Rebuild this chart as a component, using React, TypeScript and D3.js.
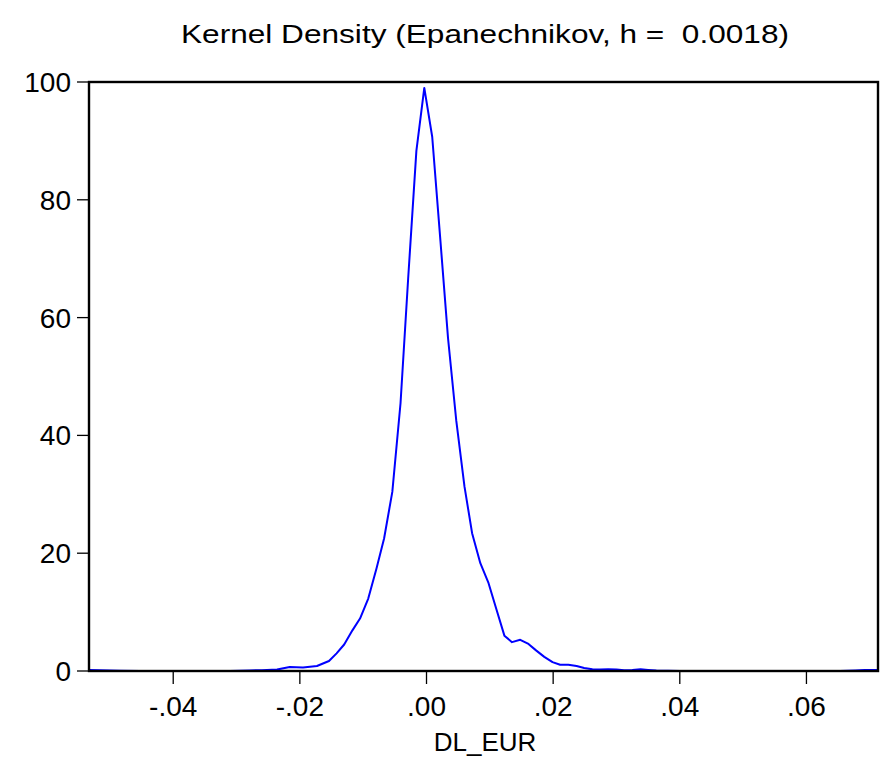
import React from "react";
import * as d3 from "d3";

const xValues = [
  -0.0533, -0.0516, -0.0484, -0.0453, -0.0400, -0.0350, -0.0310, -0.0279, -0.0260, -0.0236,
  -0.0216, -0.0195, -0.0173, -0.0154, -0.0142, -0.0130, -0.0117, -0.0105, -0.0092, -0.0079,
  -0.0067, -0.0054, -0.0041, -0.0029, -0.0016, -0.00035, 0.0009, 0.0022, 0.0034, 0.0047,
  0.0060, 0.0072, 0.0085, 0.0098, 0.0110, 0.0123, 0.0135, 0.0148, 0.0161, 0.0173,
  0.0186, 0.0199, 0.0211, 0.0224, 0.0237, 0.0249, 0.0262, 0.0274, 0.0287, 0.0300,
  0.0312, 0.0325, 0.0338, 0.0350, 0.0363, 0.0400, 0.0500, 0.0600, 0.0653, 0.0677,
  0.0692, 0.0713,
];
const densityValues = [
  0.15, 0.12, 0.05, 0.02, 0.02, 0.02, 0.02, 0.1, 0.12, 0.24,
  0.68, 0.58, 0.85, 1.7, 3.0, 4.5, 6.9, 8.9, 12.3, 17.4,
  22.5, 30.4, 45.5, 66.6, 88.3, 99.0, 90.7, 73.0, 56.5, 42.5,
  31.3, 23.4, 18.3, 14.9, 10.6, 6.0, 4.9, 5.3, 4.6, 3.5,
  2.4, 1.5, 1.05, 1.05, 0.85, 0.5, 0.29, 0.24, 0.29, 0.24,
  0.12, 0.17, 0.29, 0.17, 0.07, 0.02, 0.02, 0.02, 0.02, 0.1,
  0.15, 0.15,
];
const xTicks = [-0.04, -0.02, 0.0, 0.02, 0.04, 0.06];
const xTickLabels = ["-.04", "-.02", ".00", ".02", ".04", ".06"];
const yTicks = [0, 20, 40, 60, 80, 100];
const yTickLabels = ["0", "20", "40", "60", "80", "100"];
const title = "Kernel Density (Epanechnikov, h =  0.0018)";
const xTitle = "DL_EUR";

const W = 882;
const H = 781;
const left = 89;
const right = 878;
const top = 82;
const bottom = 671;
const font = "'Liberation Sans', Arial, Helvetica, sans-serif";

export default function App() {
  const x = d3.scaleLinear().domain([-0.0533, 0.0713]).range([left, right]);
  const y = d3.scaleLinear().domain([0, 100]).range([bottom, top]);
  const pts: [number, number][] = xValues.map((v, i) => [v, densityValues[i]]);
  const line = d3
    .line<[number, number]>()
    .x((d) => x(d[0]))
    .y((d) => y(d[1]));

  return (
    <svg
      width={W}
      height={H}
      style={{ position: "absolute", left: 0, top: 0, background: "#fff" }}
      fontFamily={font}
    >
      <rect x={0} y={0} width={W} height={H} fill="#fff" />
      <text
        x={485}
        y={43}
        textAnchor="middle"
        fontSize={26}
        fill="#000"
        textLength={608}
        lengthAdjust="spacingAndGlyphs"
        style={{ whiteSpace: "pre" }}
      >
        {title}
      </text>
      <path d={line(pts) || ""} fill="none" stroke="#0000ff" strokeWidth={2} strokeLinejoin="round" />
      <rect
        x={left}
        y={top}
        width={right - left}
        height={bottom - top}
        fill="none"
        stroke="#000"
        strokeWidth={2.4}
      />
      {yTicks.map((t, i) => (
        <g key={"y" + t}>
          <line x1={left - 12} x2={left} y1={y(t)} y2={y(t)} stroke="#000" strokeWidth={1.3} />
          <text
            x={71}
            y={y(t)}
            dy="0.36em"
            textAnchor="end"
            fontSize={28}
            fill="#000"
          >
            {yTickLabels[i]}
          </text>
        </g>
      ))}
      {xTicks.map((t, i) => (
        <g key={"x" + t}>
          <line x1={x(t)} x2={x(t)} y1={bottom} y2={bottom + 13} stroke="#000" strokeWidth={1.3} />
          <text x={x(t)} y={716} textAnchor="middle" fontSize={28} fill="#000">
            {xTickLabels[i]}
          </text>
        </g>
      ))}
      <text x={485} y={751} textAnchor="middle" fontSize={26} fill="#000">
        {xTitle}
      </text>
    </svg>
  );
}
